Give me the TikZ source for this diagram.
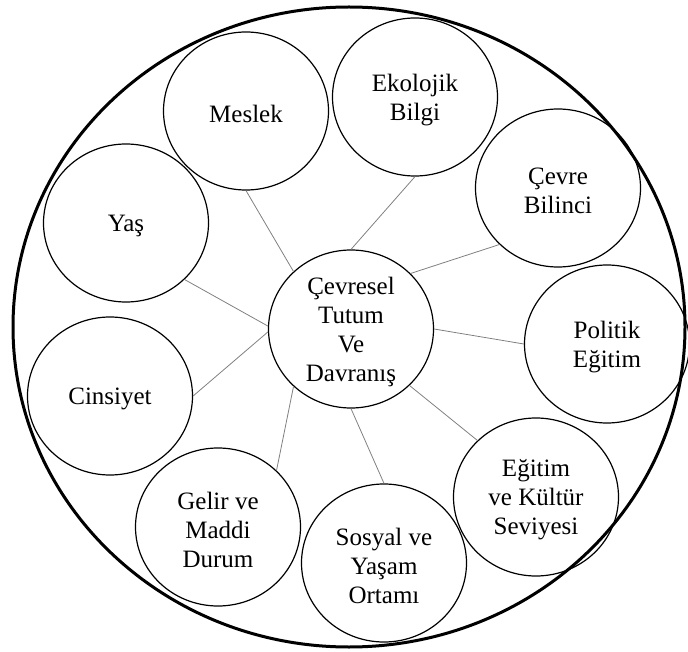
\documentclass[tikz,border=0pt]{standalone}
\usepackage{fontspec}
\setmainfont{Liberation Serif}
\usetikzlibrary{shapes.geometric}
\begin{document}
\begin{tikzpicture}[x=1pt,y=-1pt,
  bubble/.style={draw=black,line width=1.2pt,ellipse,minimum width=165pt,minimum height=158pt,inner sep=0pt,
    label={[align=center,font=\fontsize{25}{29}\selectfont,yshift=-3pt,inner sep=0pt]center:{#1}}},
  link/.style={draw=black!50,line width=0.8pt}]
\useasboundingbox (0,0) rectangle (688,652);
\draw[line width=3pt] (349,327) ellipse [x radius=336pt, y radius=320pt];
\node[bubble={Çevresel\\Tutum\\Ve\\Davranış}] (c) at (351,329) {};
\node[bubble={Meslek}] (meslek) at (246,111) {};
\node[bubble={Ekolojik\\Bilgi}] (ekoloji) at (415,97) {};
\node[bubble={Çevre\\Bilinci}] (cevre) at (558,188) {};
\node[bubble={Politik\\Eğitim}] (politik) at (607,344) {};
\node[bubble={Eğitim\\ve Kültür\\Seviyesi}] (egitim) at (536,497) {};
\node[bubble={Sosyal ve\\Yaşam\\Ortamı}] (sosyal) at (384,563) {};
\node[bubble={Gelir ve\\Maddi\\Durum}] (gelir) at (218,527) {};
\node[bubble={Cinsiyet}] (cinsiyet) at (110,396) {};
\node[bubble={Yaş}] (yas) at (126,223) {};
\draw[link] (c.135) -- (meslek.270);
\draw[link] (c.90) -- (ekoloji.270);
\draw[link] (c.43) -- (cevre.224);
\draw[link] (c.0) -- (politik.180);
\draw[link] (c.-44) -- (egitim.136);
\draw[link] (c.270) -- (sosyal.90);
\draw[link] (c.225) -- (gelir.44);
\draw[link] (c.178) -- (yas.-44);
\draw[link] (c.182) -- (cinsiyet.0);
\end{tikzpicture}
\end{document}
